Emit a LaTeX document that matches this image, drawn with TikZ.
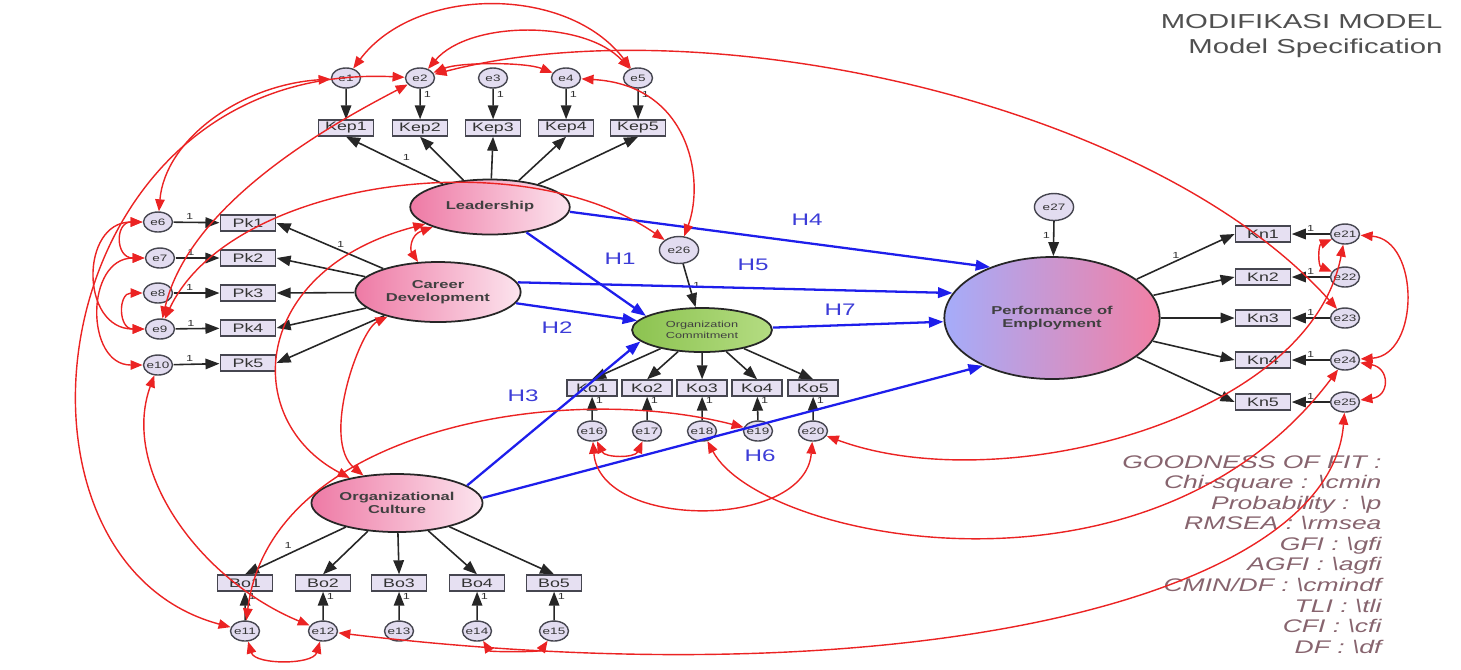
\documentclass[tikz,border=0pt]{standalone}
\usepackage{fontspec}
\setmainfont{Liberation Sans}
\usetikzlibrary{arrows.meta, shapes.geometric}

\definecolor{boxfill}{RGB}{230,224,242}
\definecolor{errfill}{RGB}{226,220,240}
\definecolor{edgegray}{RGB}{70,70,80}
\definecolor{pinkdark}{RGB}{238,122,165}
\definecolor{pinklight}{RGB}{252,228,238}
\definecolor{greendark}{RGB}{140,195,80}
\definecolor{greenlight}{RGB}{180,220,130}
\definecolor{perfblue}{RGB}{165,172,250}
\definecolor{perfpink}{RGB}{242,128,165}
\definecolor{covred}{RGB}{235,35,35}
\definecolor{hypblue}{RGB}{30,30,235}
\definecolor{hlabblue}{RGB}{60,60,215}
\definecolor{goftext}{RGB}{135,100,110}
\definecolor{titlegray}{RGB}{80,80,80}

\tikzset{
  indbox/.style={rectangle, draw=edgegray, line width=0.8pt, fill=boxfill,
    minimum width=7.6mm, minimum height=3.2mm, inner sep=0pt,
    font=\fontsize{7}{8}\selectfont, text=black!80},
  errcirc/.style={circle, draw=edgegray, line width=0.8pt, fill=errfill,
    minimum size=4mm, inner sep=0pt, font=\fontsize{5.3}{6}\selectfont, text=black!80},
  latent/.style={ellipse, draw=black!85, line width=1pt, left color=pinkdark,
    right color=pinklight, align=center, inner sep=0pt,
    font=\fontsize{6.5}{7.5}\selectfont\bfseries, text=black!75},
  load/.style={-{Triangle[length=2.8mm, width=2.1mm]}, line width=0.9pt, draw=black!85},
  hyp/.style={-{Triangle[length=2.9mm, width=2.1mm]}, line width=1.3pt, draw=hypblue},
  cov/.style={{Triangle[length=2.4mm, width=1.9mm]}-{Triangle[length=2.4mm, width=1.9mm]},
    line width=0.8pt, draw=covred},
  one/.style={font=\fontsize{5}{6}\selectfont, inner sep=1pt, text=black!80},
  hlab/.style={font=\fontsize{9.5}{11}\selectfont, text=hlabblue},
  gof/.style={font=\fontsize{10.4}{11.7}\selectfont\itshape, text=goftext, align=right, inner sep=0pt},
  heading/.style={font=\fontsize{11.5}{13}\selectfont, text=titlegray, inner sep=0pt}
}

\begin{document}
\begin{tikzpicture}[x=0.13793mm, y=-0.2mm, xscale=1.45,
    every node/.append style={transform shape}]
  \useasboundingbox (0,0) rectangle (1461,669);

  %% title
  \node[heading, anchor=east] (title) at (1443,22) {MODIFIKASI MODEL};
  \node[heading, anchor=east] (subtitle) at (1443,48) {Model Specification};

  %% latent variables
  \node[latent, minimum width=22mm, minimum height=11mm] (lead) at (490,207) {Leadership};
  \node[latent, minimum width=22.8mm, minimum height=12mm] (career) at (438,292) {Career\\Development};
  \node[latent, minimum width=19.3mm, minimum height=8.8mm, left color=greendark,
    right color=greenlight, font=\fontsize{5}{6}\selectfont] (orgcom) at (702,330) {Organization\\Commitment};
  \node[latent, minimum width=23.6mm, minimum height=11.6mm] (orgcul) at (397,503) {Organizational\\Culture};
  \node[latent, minimum width=29.7mm, minimum height=24.4mm, left color=perfblue,
    right color=perfpink] (perf) at (1052,318) {Performance of\\Employment};

  %% Leadership indicators
  \node[errcirc] (e1) at (346,78) {e1};
  \node[errcirc] (e2) at (420,78) {e2};
  \node[errcirc] (e3) at (493,78) {e3};
  \node[errcirc] (e4) at (566,78) {e4};
  \node[errcirc] (e5) at (638,78) {e5};
  \node[indbox] (kep1) at (346,128) {Kep1};
  \node[indbox] (kep2) at (420,128) {Kep2};
  \node[indbox] (kep3) at (493,128) {Kep3};
  \node[indbox] (kep4) at (566,128) {Kep4};
  \node[indbox] (kep5) at (638,128) {Kep5};

  %% Career Development indicators
  \node[errcirc] (e6) at (158,222) {e6};
  \node[errcirc] (e7) at (160,258) {e7};
  \node[errcirc] (e8) at (158,293) {e8};
  \node[errcirc] (e9) at (160,329) {e9};
  \node[errcirc] (e10) at (158,365) {e10};
  \node[indbox] (pk1) at (248,223) {Pk1};
  \node[indbox] (pk2) at (248,258) {Pk2};
  \node[indbox] (pk3) at (248,293) {Pk3};
  \node[indbox] (pk4) at (248,328) {Pk4};
  \node[indbox] (pk5) at (248,363) {Pk5};

  %% Organization Commitment indicators
  \node[errcirc, minimum size=5.4mm] (e26) at (679,250) {e26};
  \node[indbox, minimum width=6.9mm] (ko1) at (592,388) {Ko1};
  \node[indbox, minimum width=6.9mm] (ko2) at (647,388) {Ko2};
  \node[indbox, minimum width=6.9mm] (ko3) at (702,388) {Ko3};
  \node[indbox, minimum width=6.9mm] (ko4) at (757,388) {Ko4};
  \node[indbox, minimum width=6.9mm] (ko5) at (813,388) {Ko5};
  \node[errcirc] (e16) at (592,431) {e16};
  \node[errcirc] (e17) at (647,431) {e17};
  \node[errcirc] (e18) at (702,431) {e18};
  \node[errcirc] (e19) at (758,431) {e19};
  \node[errcirc] (e20) at (813,431) {e20};

  %% Organizational Culture indicators
  \node[indbox] (bo1) at (245,583) {Bo1};
  \node[indbox] (bo2) at (323,583) {Bo2};
  \node[indbox] (bo3) at (399,583) {Bo3};
  \node[indbox] (bo4) at (477,583) {Bo4};
  \node[indbox] (bo5) at (554,583) {Bo5};
  \node[errcirc] (e11) at (245,631) {e11};
  \node[errcirc] (e12) at (323,631) {e12};
  \node[errcirc] (e13) at (399,631) {e13};
  \node[errcirc] (e14) at (477,631) {e14};
  \node[errcirc] (e15) at (554,631) {e15};

  %% Performance indicators
  \node[errcirc, minimum size=5.4mm] (e27) at (1054,207) {e27};
  \node[indbox] (kn1) at (1263,234) {Kn1};
  \node[indbox] (kn2) at (1263,277) {Kn2};
  \node[indbox] (kn3) at (1263,318) {Kn3};
  \node[indbox] (kn4) at (1263,360) {Kn4};
  \node[indbox] (kn5) at (1263,402) {Kn5};
  \node[errcirc] (e21) at (1345,234) {e21};
  \node[errcirc] (e22) at (1345,277) {e22};
  \node[errcirc] (e23) at (1345,318) {e23};
  \node[errcirc] (e24) at (1345,360) {e24};
  \node[errcirc] (e25) at (1345,402) {e25};

  %% hypothesis labels
  \node[hlab] (h1) at (620,259) {H1};
  \node[hlab] (h2) at (557,328) {H2};
  \node[hlab] (h3) at (523,396) {H3};
  \node[hlab] (h4) at (807,220) {H4};
  \node[hlab] (h5) at (753,265) {H5};
  \node[hlab] (h6) at (760,456) {H6};
  \node[hlab] (h7) at (840,310) {H7};

  \node[gof, anchor=north east] (gof) at (1382,455) {GOODNESS OF FIT :\\
    Chi-square : \textbackslash cmin\\
    Probability : \textbackslash p\\
    RMSEA : \textbackslash rmsea\\
    GFI : \textbackslash gfi\\
    AGFI : \textbackslash agfi\\
    CMIN/DF : \textbackslash cmindf\\
    TLI : \textbackslash tli\\
    CFI : \textbackslash cfi\\
    DF : \textbackslash df};

  %% loadings
  \draw[load] (lead) -- node[one, pos=0.45, above right]{1} (kep1.south);
  \draw[load] (lead) -- (kep2.south);
  \draw[load] (lead) -- (kep3.south);
  \draw[load] (lead) -- (kep4.south);
  \draw[load] (lead) -- (kep5.south);

  \draw[load] (career) -- node[one, pos=0.4, above]{1} (pk1.east);
  \draw[load] (career) -- (pk2.east);
  \draw[load] (career) -- (pk3.east);
  \draw[load] (career) -- (pk4.east);
  \draw[load] (career) -- (pk5.east);

  \draw[load] (orgcom) -- (ko1.north);
  \draw[load] (orgcom) -- (ko2.north);
  \draw[load] (orgcom) -- (ko3.north);
  \draw[load] (orgcom) -- (ko4.north);
  \draw[load] (orgcom) -- (ko5.north);

  \draw[load] (orgcul) -- node[one, pos=0.5, above left]{1} (bo1.north);
  \draw[load] (orgcul) -- (bo2.north);
  \draw[load] (orgcul) -- (bo3.north);
  \draw[load] (orgcul) -- (bo4.north);
  \draw[load] (orgcul) -- (bo5.north);

  \draw[load] (perf) -- node[one, pos=0.4, above]{1} (kn1.west);
  \draw[load] (perf) -- (kn2.west);
  \draw[load] (perf) -- (kn3.west);
  \draw[load] (perf) -- (kn4.west);
  \draw[load] (perf) -- (kn5.west);

  %% error terms
  \draw[load] (e1) -- (kep1);
  \draw[load] (e2) -- node[one, pos=0.2, right]{1} (kep2);
  \draw[load] (e3) -- node[one, pos=0.2, right]{1} (kep3);
  \draw[load] (e4) -- node[one, pos=0.2, right]{1} (kep4);
  \draw[load] (e5) -- node[one, pos=0.2, right]{1} (kep5);

  \draw[load] (e6) -- node[one, pos=0.35, above]{1} (pk1);
  \draw[load] (e7) -- node[one, pos=0.35, above]{1} (pk2);
  \draw[load] (e8) -- node[one, pos=0.35, above]{1} (pk3);
  \draw[load] (e9) -- node[one, pos=0.35, above]{1} (pk4);
  \draw[load] (e10) -- node[one, pos=0.35, above]{1} (pk5);

  \draw[load] (e16) -- node[one, pos=0.85, right]{1} (ko1);
  \draw[load] (e17) -- node[one, pos=0.85, right]{1} (ko2);
  \draw[load] (e18) -- node[one, pos=0.85, right]{1} (ko3);
  \draw[load] (e19) -- node[one, pos=0.85, right]{1} (ko4);
  \draw[load] (e20) -- node[one, pos=0.85, right]{1} (ko5);

  \draw[load] (e11) -- node[one, pos=0.85, right]{1} (bo1);
  \draw[load] (e12) -- node[one, pos=0.85, right]{1} (bo2);
  \draw[load] (e13) -- node[one, pos=0.85, right]{1} (bo3);
  \draw[load] (e14) -- node[one, pos=0.85, right]{1} (bo4);
  \draw[load] (e15) -- node[one, pos=0.85, right]{1} (bo5);

  \draw[load] (e21) -- node[one, pos=0.5, above]{1} (kn1);
  \draw[load] (e22) -- node[one, pos=0.5, above]{1} (kn2);
  \draw[load] (e23) -- node[one, pos=0.5, above]{1} (kn3);
  \draw[load] (e24) -- node[one, pos=0.5, above]{1} (kn4);
  \draw[load] (e25) -- node[one, pos=0.5, above]{1} (kn5);

  \draw[load] (e26) -- node[one, pos=0.5, right]{1} (orgcom);
  \draw[load] (e27) -- node[one, pos=0.4, left]{1} (perf);

  %% structural paths
  \draw[hyp] (lead) -- (orgcom.160);
  \draw[hyp] (career) -- (orgcom);
  \draw[hyp] (orgcul.20) -- (orgcom.195);
  \draw[hyp] (lead.-5) -- (perf.130);
  \draw[hyp] (career.10) -- (perf.160);
  \draw[hyp] (orgcom) -- (perf);
  \draw[hyp] (orgcul.5) -- (perf.225);

  %% covariances
  \draw[cov] (e1) .. controls (416,-15) and (568,-15) .. (e5);
  \draw[cov] (e2) .. controls (470,20) and (585,20) .. (e5);
  \draw[cov] (e2) .. controls (460,62) and (525,62) .. (e4);
  \draw[cov] (e2) .. controls (700,5) and (1150,100) .. (e23);
  \draw[cov] (e4) .. controls (690,85) and (705,180) .. (e26);
  \draw[cov] (e1) .. controls (240,85) and (165,140) .. (e6);
  \draw[cov] (e2) .. controls (40,60) and (-20,560) .. (e11);
  \draw[cov] (e9) .. controls (190,200) and (340,120) .. (e2);
  \draw[cov] (e9) .. controls (230,180) and (520,140) .. (e26);

  \draw[cov] (e6) .. controls (115,222) and (115,258) .. (e7);
  \draw[cov] (e6) .. controls (80,222) and (80,329) .. (e9);
  \draw[cov] (e7) .. controls (85,258) and (85,365) .. (e10);
  \draw[cov] (e8) .. controls (118,293) and (118,329) .. (e9);
  \draw[cov] (e10) .. controls (120,470) and (200,580) .. (e12);

  \draw[cov] (lead) .. controls (410,235) and (410,250) .. (career);
  \draw[cov] (lead) .. controls (250,270) and (240,420) .. (orgcul);
  \draw[cov] (career) .. controls (360,330) and (320,440) .. (orgcul);

  \draw[cov] (e11) .. controls (270,430) and (560,380) .. (e19);
  \draw[cov] (e11) .. controls (255,665) and (313,665) .. (e12);
  \draw[cov] (e14) .. controls (490,652) and (540,652) .. (e15);
  \draw[cov] (e12) .. controls (900,700) and (1330,600) .. (e25);

  \draw[cov] (e16) .. controls (605,458) and (635,458) .. (e17);
  \draw[cov] (e16) .. controls (600,530) and (805,530) .. (e20);
  \draw[cov] (e18) .. controls (760,540) and (1150,620) .. (e24);
  \draw[cov] (e20) .. controls (1000,500) and (1310,420) .. (e21);

  \draw[cov] (e21) .. controls (1420,240) and (1420,355) .. (e24);
  \draw[cov] (e24) .. controls (1390,368) and (1390,396) .. (e25);
  \draw[cov] (e21) .. controls (1318,245) and (1318,266) .. (e22);
\end{tikzpicture}
\end{document}
